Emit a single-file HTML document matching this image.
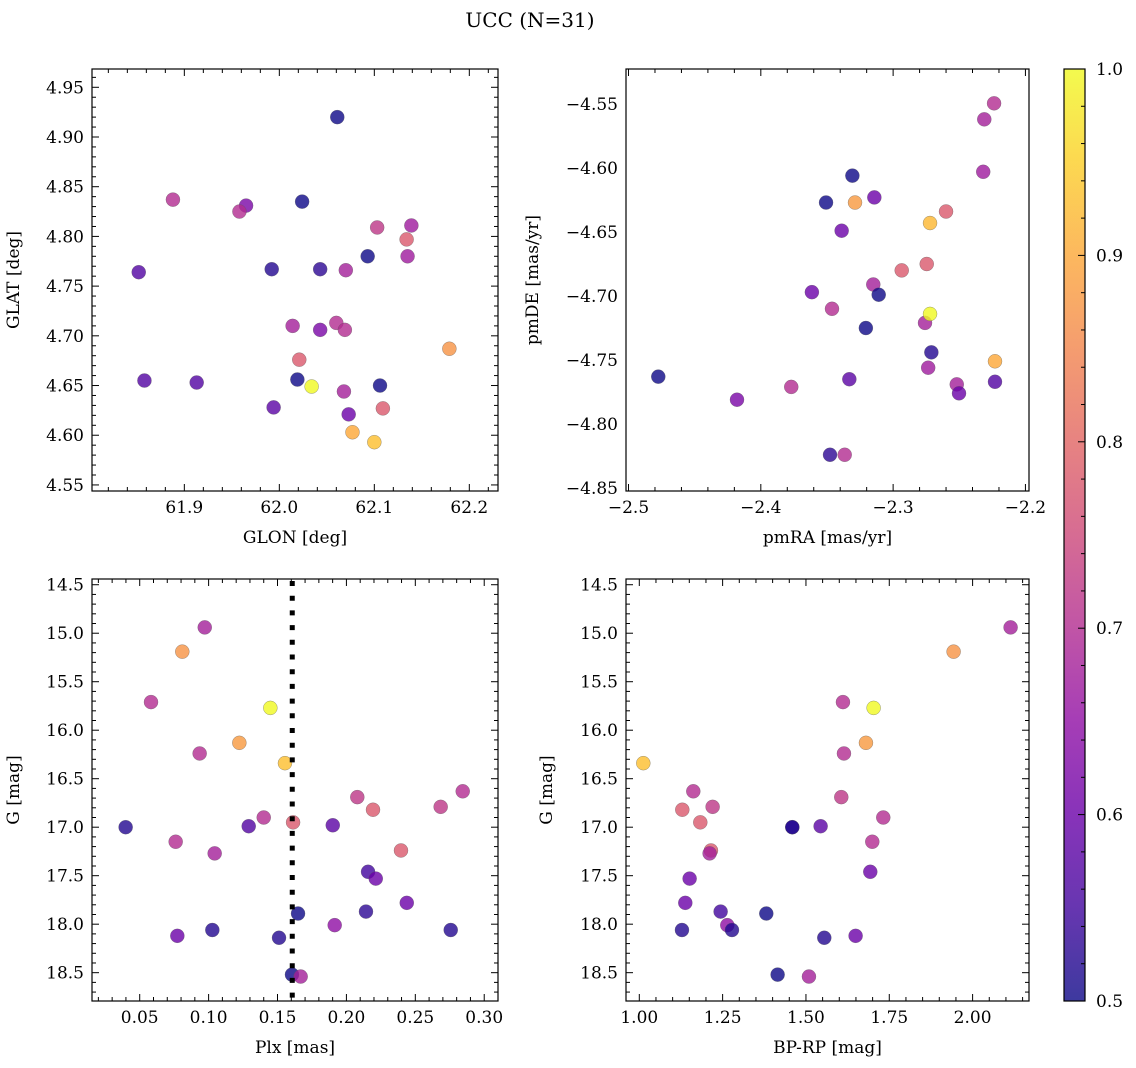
<!DOCTYPE html>
<html><head><meta charset="utf-8"><title>UCC (N=31)</title>
<style>
html,body{margin:0;padding:0;background:#fff;}
svg{display:block;font-family:"DejaVu Serif","Liberation Serif",serif;}
</style></head>
<body>
<svg id="fig" width="1136" height="1068" viewBox="0 0 1136 1068" xmlns="http://www.w3.org/2000/svg">
<defs>
<linearGradient id="plasma" x1="0" y1="1" x2="0" y2="0">
<stop offset="0" stop-color="#0d0887"/><stop offset="0.1" stop-color="#41049d"/><stop offset="0.2" stop-color="#6a00a8"/><stop offset="0.3" stop-color="#8f0da4"/><stop offset="0.4" stop-color="#b12a90"/><stop offset="0.5" stop-color="#cc4778"/><stop offset="0.6" stop-color="#e16462"/><stop offset="0.7" stop-color="#f2844b"/><stop offset="0.8" stop-color="#fca636"/><stop offset="0.9" stop-color="#fcce25"/><stop offset="1" stop-color="#f0f921"/>
</linearGradient>
</defs>
<text x="530" y="27" font-size="20" text-anchor="middle">UCC (N=31)</text>
<g id="panels"></g>
<g id="cbar">
<rect x="1064" y="69" width="21" height="932" fill="url(#plasma)" opacity="0.8"/>
<rect x="1064" y="69" width="21" height="932" fill="none" stroke="#000" stroke-width="1.2"/>
</g>
</svg>
<script>
const glon = [62.061,61.888,61.965,61.958,62.024,62.103,62.139,62.134,62.093,62.135,61.852,61.992,62.043,62.070,62.014,62.043,62.060,62.069,62.179,62.021,61.858,61.913,62.019,62.034,62.106,62.068,61.994,62.073,62.109,62.077,62.100];
const glat = [4.920,4.837,4.831,4.825,4.835,4.809,4.811,4.797,4.780,4.780,4.764,4.767,4.767,4.766,4.710,4.706,4.713,4.706,4.687,4.676,4.655,4.653,4.656,4.649,4.650,4.644,4.628,4.621,4.627,4.603,4.593];
const probA = [0.5,0.7,0.62,0.7,0.5,0.72,0.67,0.78,0.5,0.67,0.57,0.52,0.53,0.68,0.68,0.62,0.7,0.7,0.87,0.78,0.57,0.57,0.5,1.0,0.5,0.68,0.58,0.6,0.78,0.9,0.93];

const pmra = [-2.2237,-2.2311,-2.2319,-2.3308,-2.3507,-2.3288,-2.3142,-2.3389,-2.2600,-2.2721,-2.2935,-2.2746,-2.3150,-2.3109,-2.3614,-2.3462,-2.3206,-2.2759,-2.2721,-2.2711,-2.2230,-2.2735,-2.3331,-2.2519,-2.2502,-2.2230,-2.4775,-2.4180,-2.3770,-2.3477,-2.3366];
const pmde = [-4.5495,-4.562,-4.603,-4.606,-4.627,-4.627,-4.623,-4.649,-4.634,-4.643,-4.680,-4.675,-4.691,-4.699,-4.697,-4.710,-4.725,-4.721,-4.714,-4.744,-4.751,-4.756,-4.765,-4.769,-4.776,-4.767,-4.763,-4.781,-4.771,-4.824,-4.824];
const probB = [0.7,0.68,0.67,0.5,0.5,0.88,0.6,0.6,0.78,0.92,0.78,0.78,0.68,0.5,0.6,0.7,0.5,0.68,1.0,0.52,0.9,0.67,0.58,0.68,0.6,0.57,0.5,0.62,0.7,0.53,0.7];

const plx = [0.0972,0.0809,0.0582,0.1448,0.1223,0.0935,0.1554,0.2844,0.2079,0.2684,0.2193,0.1400,0.1613,0.1901,0.1291,0.0398,0.0761,0.2396,0.1044,0.2157,0.2213,0.2438,0.2142,0.1649,0.1915,0.1027,0.2757,0.0773,0.1511,0.1605,0.1668];
const gmagC = [14.94,15.19,15.71,15.77,16.13,16.24,16.34,16.63,16.69,16.79,16.82,16.90,16.95,16.98,16.99,17.00,17.15,17.24,17.27,17.46,17.53,17.78,17.87,17.89,18.01,18.06,18.06,18.12,18.14,18.52,18.54];
const probC = [0.68,0.87,0.7,1.0,0.88,0.7,0.93,0.7,0.72,0.72,0.78,0.7,0.78,0.58,0.57,0.52,0.7,0.78,0.68,0.55,0.6,0.6,0.53,0.5,0.65,0.52,0.52,0.6,0.52,0.5,0.68];
const plxLine = 0.1607;

const bprp = [2.114,1.943,1.611,1.703,1.680,1.614,1.012,1.162,1.606,1.220,1.129,1.732,1.183,1.544,1.459,1.459,1.699,1.215,1.211,1.693,1.151,1.138,1.244,1.381,1.264,1.128,1.278,1.649,1.555,1.415,1.509];
const gmagD = [14.94,15.19,15.71,15.77,16.13,16.24,16.34,16.63,16.69,16.79,16.82,16.90,16.95,16.99,17.00,17.00,17.15,17.24,17.27,17.46,17.53,17.78,17.87,17.89,18.01,18.06,18.06,18.12,18.14,18.52,18.54];
const probD = [0.68,0.87,0.7,1.0,0.88,0.7,0.93,0.7,0.72,0.72,0.78,0.7,0.78,0.58,0.52,0.52,0.7,0.78,0.68,0.6,0.6,0.6,0.55,0.5,0.65,0.52,0.52,0.6,0.52,0.5,0.68];

const ticksTLx = [61.9,62.0,62.1,62.2];
const ticksTLy = [4.55,4.60,4.65,4.70,4.75,4.80,4.85,4.90,4.95];
const ticksTRx = [-2.5,-2.4,-2.3,-2.2];
const ticksTRy = [-4.55,-4.60,-4.65,-4.70,-4.75,-4.80,-4.85];
const ticksBLx = [0.05,0.10,0.15,0.20,0.25,0.30];
const ticksGy = [14.5,15.0,15.5,16.0,16.5,17.0,17.5,18.0,18.5];
const ticksBRx = [1.00,1.25,1.50,1.75,2.00];
const ticksCbar = [0.5,0.6,0.7,0.8,0.9,1.0];

const NS = "http://www.w3.org/2000/svg";
const stops = [[13,8,135],[65,4,157],[106,0,168],[143,13,164],[177,42,144],[204,71,120],[225,100,98],[242,132,75],[252,166,54],[252,206,37],[240,249,33]];
function plasma(v){
  let t = Math.max(0, Math.min(1, (v-0.5)/0.5))*10;
  let i = Math.min(9, Math.floor(t)), f = t-i;
  const a = stops[i], b = stops[i+1];
  return "rgb(" + [0,1,2].map(k => Math.round(a[k]+(b[k]-a[k])*f)).join(",") + ")";
}
function mk(tag, attrs, parent){
  const e = document.createElementNS(NS, tag);
  for (const k in attrs) e.setAttribute(k, attrs[k]);
  parent.appendChild(e);
  return e;
}
function fmt(v, d){ return (v<0 ? "\u2212" : "") + Math.abs(v).toFixed(d); }

const root = document.getElementById("panels");
function panel(p){
  const g = mk("g", {}, root);
  
  
  const sx = v => p.x0 + (v - p.xd[0])/(p.xd[1]-p.xd[0])*(p.x1-p.x0);
  const sy = p.inv ? (v => p.y0 + (v - p.yd[0])/(p.yd[1]-p.yd[0])*(p.y1-p.y0))
                   : (v => p.y1 - (v - p.yd[0])/(p.yd[1]-p.yd[0])*(p.y1-p.y0));
  for (let i=0;i<p.xs.length;i++){
    const c = mk("circle", {cx:sx(p.xs[i]), cy:sy(p.ys[i]), r:7, fill:plasma(p.cs[i]), "fill-opacity":0.8, stroke:"rgba(90,90,90,0.6)", "stroke-width":0.5}, g);
    
    
  }
  if (p.vline !== undefined){
    const l = mk("line", {x1:sx(p.vline), x2:sx(p.vline), y1:p.y0+2, y2:p.y1, stroke:"#000", "stroke-width":5, "stroke-dasharray":"5 9.7"}, g);
    
    
  }
  const fr = mk("rect", {x:p.x0, y:p.y0, width:p.x1-p.x0, height:p.y1-p.y0, fill:"none", stroke:"#000", "stroke-width":1.2}, g);
  
  
  const tk = mk("g", {stroke:"#000", "stroke-width":1}, g);
  
  
  const xstep = p.xt[1]-p.xt[0], ystep = p.yt[1]-p.yt[0];
  for (let v = p.xt[0]-xstep; v <= p.xt[p.xt.length-1]+xstep+1e-9; v += xstep/5){
    const X = sx(v); if (X < p.x0-0.1 || X > p.x1+0.1) continue;
    const maj = Math.abs(((v-p.xt[0])/xstep) - Math.round((v-p.xt[0])/xstep)) < 1e-6;
    const L = maj ? 7 : 4;
    mk("line", {x1:X, x2:X, y1:p.y1, y2:p.y1-L}, tk);
    mk("line", {x1:X, x2:X, y1:p.y0, y2:p.y0+L}, tk);
  }
  for (let v = p.yt[0]-ystep; v <= p.yt[p.yt.length-1]+ystep+1e-9; v += ystep/5){
    const Y = sy(v); if (Y < p.y0-0.1 || Y > p.y1+0.1) continue;
    const maj = Math.abs(((v-p.yt[0])/ystep) - Math.round((v-p.yt[0])/ystep)) < 1e-6;
    const L = maj ? 7 : 4;
    mk("line", {x1:p.x0, x2:p.x0+L, y1:Y, y2:Y}, tk);
    mk("line", {x1:p.x1, x2:p.x1-L, y1:Y, y2:Y}, tk);
  }
  for (const v of p.xt){
    const t = mk("text", {x:sx(v), y:p.y1+22, "font-size":17, "text-anchor":"middle"}, g);
    t.textContent = fmt(v, p.xdec);
    
    
  }
  for (const v of p.yt){
    const t = mk("text", {x:p.x0-8, y:sy(v)+6, "font-size":17, "text-anchor":"end"}, g);
    t.textContent = fmt(v, p.ydec);
    
    
  }
  const xl = mk("text", {x:(p.x0+p.x1)/2, y:p.y1+52, "font-size":17, "text-anchor":"middle"}, g);
  xl.textContent = p.xlabel;
  
  
  const yx = p.ylx, yy = (p.y0+p.y1)/2;
  const yl = mk("text", {x:yx, y:yy, "font-size":17, "text-anchor":"middle", transform:"rotate(-90 "+yx+" "+yy+")"}, g);
  yl.textContent = p.ylabel;
  
  
}

panel({name:"glon-glat-panel", x0:92, x1:498, y0:69, y1:491, xd:[61.8028,62.2302], yd:[4.5439,4.9684], xs:glon, ys:glat, cs:probA, xt:ticksTLx, yt:ticksTLy, xdec:1, ydec:2, xlabel:"GLON [deg]", ylabel:"GLAT [deg]", ylx:19});
panel({name:"pm-panel", x0:626, x1:1029, y0:69, y1:491, xd:[-2.5019,-2.1973], yd:[-4.8523,-4.5227], xs:pmra, ys:pmde, cs:probB, xt:ticksTRx, yt:ticksTRy, xdec:1, ydec:2, xlabel:"pmRA [mas/yr]", ylabel:"pmDE [mas/yr]", ylx:538});
panel({name:"plx-g-panel", x0:92, x1:498, y0:579, y1:1001, xd:[0.01538,0.3100], yd:[14.441,18.792], inv:true, xs:plx, ys:gmagC, cs:probC, xt:ticksBLx, yt:ticksGy, xdec:2, ydec:1, xlabel:"Plx [mas]", ylabel:"G [mag]", ylx:19, vline:plxLine});
panel({name:"cmd-panel", x0:626, x1:1029, y0:579, y1:1001, xd:[0.9601,2.1692], yd:[14.441,18.792], inv:true, xs:bprp, ys:gmagD, cs:probD, xt:ticksBRx, yt:ticksGy, xdec:2, ydec:1, xlabel:"BP-RP [mag]", ylabel:"G [mag]", ylx:552});

const cb = document.getElementById("cbar");
const cy = v => 1001 - (v-0.5)/0.5*932;
for (let v=0.5; v<=1.0001; v+=0.02){
  const maj = Math.abs(v*10 - Math.round(v*10)) < 1e-6;
  const l = mk("line", {x1:1085, x2:maj?1078:1081, y1:cy(v), y2:cy(v), stroke:"#000", "stroke-width":1}, cb);
  
  
}
for (const v of ticksCbar){
  const t = mk("text", {x:1096, y:cy(v)+6, "font-size":17}, cb);
  t.textContent = v.toFixed(1);
  
  
}
</script>
</body></html>
